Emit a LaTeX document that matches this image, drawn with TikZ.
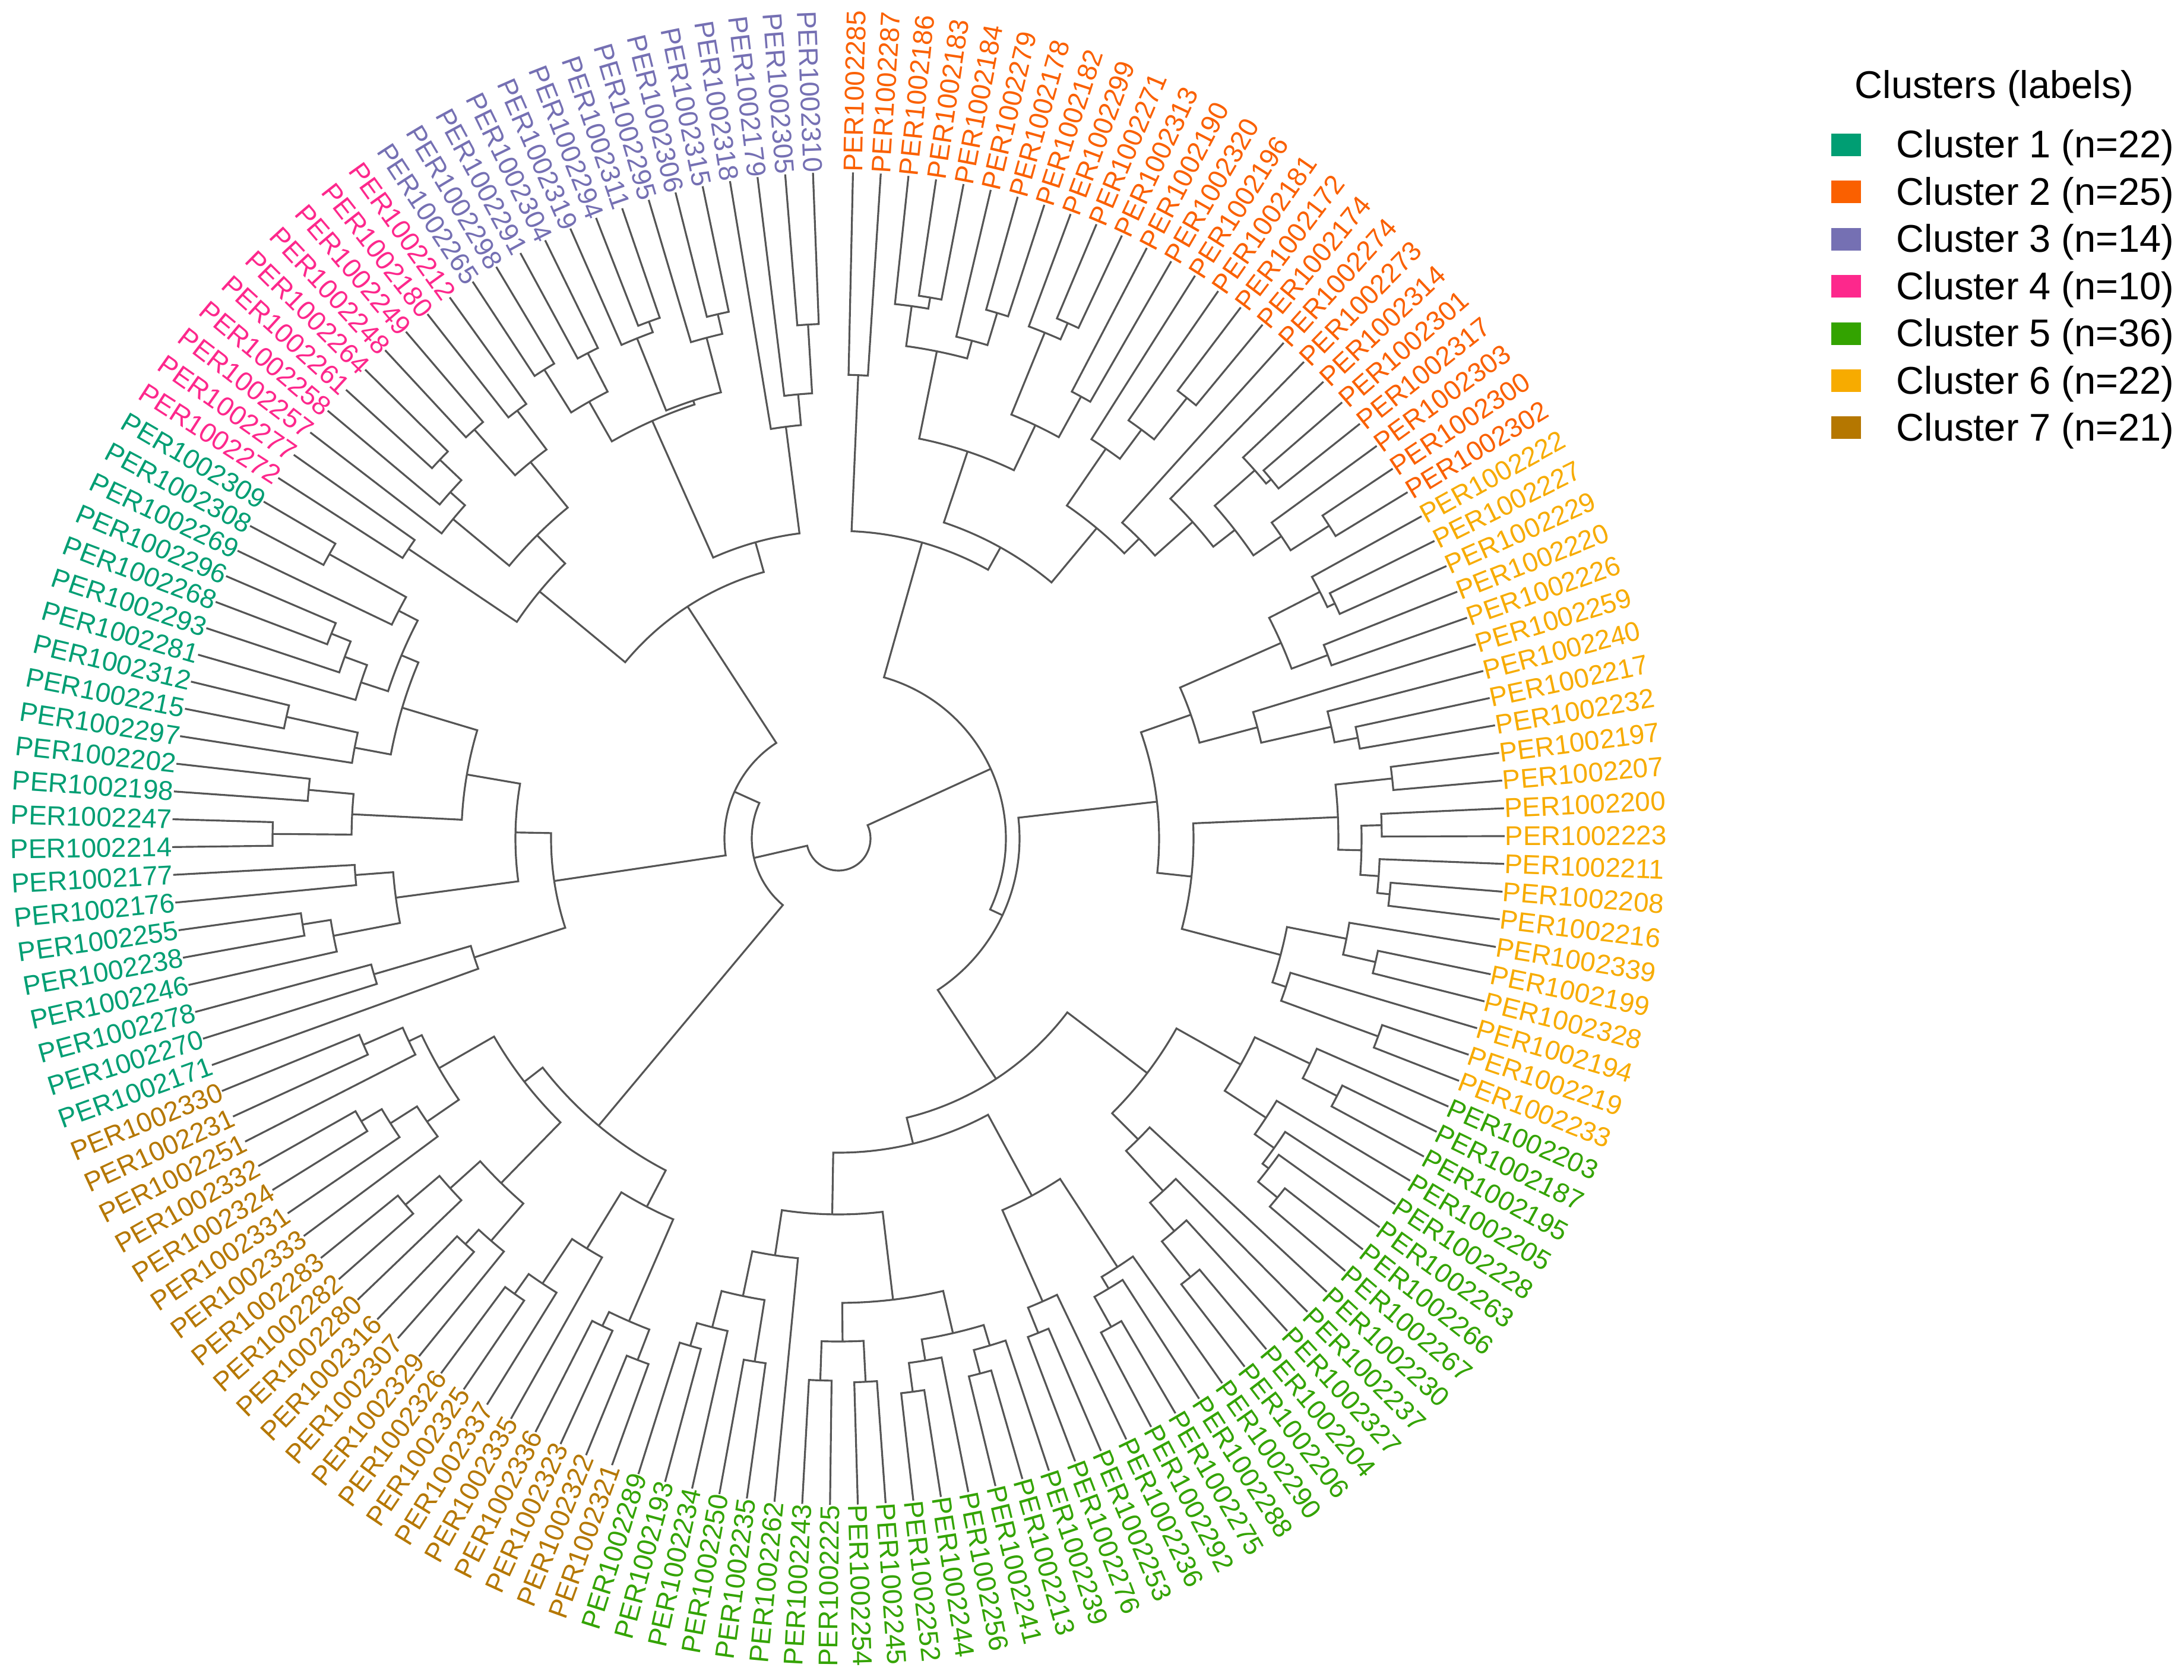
\documentclass[tikz,border=0pt]{standalone}
\usepackage{fontspec}
\setmainfont{Liberation Sans}
\definecolor{brc}{RGB}{85,85,85}
\definecolor{cA}{RGB}{0,158,115}
\definecolor{cB}{RGB}{250,96,0}
\definecolor{cC}{RGB}{117,112,179}
\definecolor{cD}{RGB}{253,40,140}
\definecolor{cE}{RGB}{51,163,0}
\definecolor{cF}{RGB}{247,171,0}
\definecolor{cG}{RGB}{181,119,0}
\tikzset{br/.style={draw=brc,line width=0.9pt},
  lab/.style={inner sep=0pt,font=\fontsize{13}{15}\selectfont},
  legtxt/.style={inner sep=0pt,font=\fontsize{18.5}{22}\selectfont}}
\def\LR{11.22}
\newcommand\lf[3]{%
  \pgfmathsetmacro\la{88.75-(#2-1)*2.393}%
  \expandafter\xdef\csname ang@p#1\endcsname{\la}%
  \coordinate (p#1) at (\la:\LR);%
  \pgfmathsetmacro\lc{cos(\la)}%
  \ifdim\lc pt<0pt\relax
    \pgfmathsetmacro\lb{\la+180}%
    \node[lab,text=#3,rotate=\lb,anchor=east] (L#1) at (p#1) {PER100#1};%
  \else
    \node[lab,text=#3,rotate=\la,anchor=west] (L#1) at (p#1) {PER100#1};%
  \fi}
\newcommand\jn[4]{%
  \edef\ja{\csname ang@#2\endcsname}\edef\jb{\csname ang@#3\endcsname}%
  \pgfmathsetmacro\jm{(\ja+\jb)/2}%
  \expandafter\xdef\csname ang@#1\endcsname{\jm}%
  \coordinate (#1) at (\jm:#4);%
  \coordinate (#1-a) at (\ja:#4);%
  \coordinate (#1-b) at (\jb:#4);%
  \draw[br] (#2) -- (#1-a) arc[start angle=\ja,end angle=\jb,radius=#4] -- (#3);}
\begin{document}
\begin{tikzpicture}
\useasboundingbox (-14.12,-14.16) rectangle (22.66,14.12);
% ---------------- leaves
\foreach \id [count=\i from 1] in {2285,2287,2186,2183,2184,2279,2178,2182,2299,2271,2313,2190,2320,2196,2181,2172,2174,2274,2273,2314,2301,2317,2303,2300,2302}{\edef\tmp{\noexpand\lf{\id}{\i}{cB}}\tmp}
\foreach \id [count=\i from 26] in {2222,2227,2229,2220,2226,2259,2240,2217,2232,2197,2207,2200,2223,2211,2208,2216,2339,2199,2328,2194,2219,2233}{\edef\tmp{\noexpand\lf{\id}{\i}{cF}}\tmp}
\foreach \id [count=\i from 48] in {2203,2187,2195,2205,2228,2263,2266,2267,2230,2237,2327,2204,2206,2290,2288,2275,2292,2236,2253,2276,2239,2213,2241,2256,2244,2252,2245,2254,2225,2243,2262,2235,2250,2234,2193,2289}{\edef\tmp{\noexpand\lf{\id}{\i}{cE}}\tmp}
\foreach \id [count=\i from 84] in {2321,2322,2323,2336,2335,2337,2325,2326,2329,2307,2316,2280,2282,2283,2333,2331,2324,2332,2251,2231,2330}{\edef\tmp{\noexpand\lf{\id}{\i}{cG}}\tmp}
\foreach \id [count=\i from 105] in {2171,2270,2278,2246,2238,2255,2176,2177,2214,2247,2198,2202,2297,2215,2312,2281,2293,2268,2296,2269,2308,2309}{\edef\tmp{\noexpand\lf{\id}{\i}{cA}}\tmp}
\foreach \id [count=\i from 127] in {2272,2277,2257,2258,2261,2264,2248,2249,2180,2212}{\edef\tmp{\noexpand\lf{\id}{\i}{cD}}\tmp}
\foreach \id [count=\i from 137] in {2265,2298,2291,2304,2319,2294,2311,2295,2306,2315,2318,2179,2305,2310}{\edef\tmp{\noexpand\lf{\id}{\i}{cC}}\tmp}
% ---------------- cluster 2
\jn{J1}{p2285}{p2287}{7.81}
\jn{J9}{p2183}{p2184}{9.24}
\jn{J7}{p2186}{J9}{9.05}
\jn{J10}{p2178}{p2182}{9.245}
\jn{J8}{p2279}{J10}{8.68}
\jn{J5}{J7}{J8}{8.37}
\jn{J13}{p2271}{p2313}{9.50}
\jn{J11}{p2299}{J13}{9.20}
\jn{J12}{p2190}{p2320}{8.49}
\jn{J6}{J11}{J12}{7.71}
\jn{J3}{J5}{J6}{6.87}
\jn{J15}{p2172}{p2174}{9.46}
\jn{J16}{p2181}{J15}{8.57}
\jn{J17}{p2196}{J16}{7.96}
\jn{J22}{p2301}{p2317}{9.47}
\jn{J21}{p2314}{J22}{9.36}
\jn{J24}{p2300}{p2302}{9.80}
\jn{J23}{p2303}{J24}{9.03}
\jn{J20}{J21}{J23}{8.46}
\jn{J19}{p2273}{J20}{8.00}
\jn{J18}{p2274}{J19}{7.15}
\jn{J4}{J17}{J18}{6.80}
\jn{J2}{J3}{J4}{5.61}
\jn{H2}{J1}{J2}{5.18}
% ---------------- cluster 6
\jn{H12}{p2227}{p2229}{9.25}
\jn{H13}{p2222}{H12}{9.11}
\jn{H11}{p2220}{p2226}{8.80}
\jn{H7}{H13}{H11}{8.15}
\jn{H16}{p2217}{p2232}{8.91}
\jn{H15}{p2240}{H16}{8.51}
\jn{H14}{p2259}{H15}{7.30}
\jn{H5}{H7}{H14}{6.29}
\jn{H19}{p2197}{p2207}{9.38}
\jn{H21}{p2200}{p2223}{9.15}
\jn{H23}{p2208}{p2216}{9.33}
\jn{H22}{p2211}{H23}{9.12}
\jn{H20}{H21}{H22}{8.81}
\jn{H17}{H19}{H20}{8.42}
\jn{H26}{p2199}{p2328}{9.28}
\jn{H24}{p2339}{H26}{8.72}
\jn{H27}{p2219}{p2233}{9.68}
\jn{H25}{p2194}{H27}{7.94}
\jn{H18}{H24}{H25}{7.70}
\jn{H6}{H17}{H18}{5.98}
\jn{H3}{H5}{H6}{5.40}
% ---------------- cluster 5
\jn{K7}{p2187}{p2195}{9.45}
\jn{K5}{p2203}{K7}{8.80}
\jn{K10}{p2266}{p2267}{9.55}
\jn{K9}{p2263}{K10}{9.13}
\jn{K8}{p2228}{K9}{9.00}
\jn{K6}{p2205}{K8}{8.60}
\jn{K3}{K5}{K6}{7.77}
\jn{K13}{p2204}{p2206}{9.47}
\jn{K12}{p2327}{K13}{8.70}
\jn{K11}{p2237}{K12}{8.07}
\jn{K4}{p2230}{K11}{7.15}
\jn{K2}{K3}{K4}{6.53}
\jn{K19}{p2275}{p2292}{9.42}
\jn{K18}{p2288}{K19}{8.84}
\jn{K16}{p2290}{K18}{8.61}
\jn{K20}{p2253}{p2276}{8.98}
\jn{K17}{p2236}{K20}{8.52}
\jn{K14}{K16}{K17}{6.84}
\jn{K26}{p2193}{p2289}{8.90}
\jn{K25}{p2234}{K26}{8.50}
\jn{K24}{p2235}{p2250}{8.92}
\jn{K23}{K25}{K24}{7.87}
\jn{K21}{K23}{p2262}{7.10}
\jn{K29}{p2225}{p2243}{9.13}
\jn{K30}{p2245}{p2254}{9.16}
\jn{K27}{K29}{K30}{8.47}
\jn{K33}{p2244}{p2252}{9.40}
\jn{K31}{K33}{p2256}{8.91}
\jn{K34}{p2213}{p2241}{9.32}
\jn{K32}{p2239}{K34}{8.91}
\jn{K28}{K31}{K32}{8.55}
\jn{K22}{K27}{K28}{7.82}
\jn{K15}{K21}{K22}{6.33}
\jn{K1}{K14}{K15}{5.29}
\jn{H4}{K1}{K2}{4.84}
\jn{H1}{H3}{H4}{3.05}
\jn{H}{H1}{H2}{2.82}
% ---------------- cluster 7
\jn{S1}{p2231}{p2330}{8.72}
\jn{S2}{S1}{p2251}{8.00}
\jn{S6}{p2324}{p2332}{9.34}
\jn{S5}{S6}{p2331}{8.94}
\jn{S4}{S5}{p2333}{8.41}
\jn{S3}{S2}{S4}{7.76}
\jn{S10}{p2282}{p2283}{9.55}
\jn{S9}{S10}{p2280}{8.80}
\jn{S12}{p2307}{p2316}{9.28}
\jn{S11}{S12}{p2329}{8.95}
\jn{S8}{S9}{S11}{8.12}
\jn{S7}{S3}{S8}{6.69}
\jn{S17}{p2325}{p2326}{9.41}
\jn{S16}{S17}{p2337}{9.00}
\jn{S15}{S16}{p2335}{8.10}
\jn{S19}{p2323}{p2336}{9.12}
\jn{S18}{p2321}{p2322}{9.41}
\jn{S20}{S19}{S18}{8.86}
\jn{S14}{S15}{S20}{6.99}
\jn{G}{S7}{S14}{6.30}
% ---------------- cluster 1
\jn{Z1}{p2312}{p2215}{9.52}
\jn{Y}{Z1}{p2297}{8.29}
\jn{Z5}{p2308}{p2309}{9.82}
\jn{Z6}{p2269}{Z5}{8.34}
\jn{Z2}{p2268}{p2296}{9.21}
\jn{Z3}{p2293}{Z2}{8.86}
\jn{Z4}{p2281}{Z3}{8.46}
\jn{Z7}{Z6}{Z4}{7.98}
\jn{Z8}{Y}{Z7}{7.67}
\jn{V1}{p2198}{p2202}{8.96}
\jn{V2}{p2214}{p2247}{9.53}
\jn{W}{V1}{V2}{8.20}
\jn{Z9}{Z8}{W}{6.35}
\jn{U1}{p2176}{p2177}{8.16}
\jn{U3}{p2238}{p2255}{9.14}
\jn{U2}{U3}{p2246}{8.66}
\jn{U}{U1}{U2}{7.52}
\jn{Z10}{Z9}{U}{5.44}
\jn{T1}{p2270}{p2278}{8.15}
\jn{T}{T1}{p2171}{6.45}
\jn{E}{Z10}{T}{4.84}
% ---------------- cluster 4
\jn{Q7}{p2272}{p2277}{8.73}
\jn{Q4}{p2261}{p2264}{9.26}
\jn{Q5}{p2258}{Q4}{8.76}
\jn{Q6}{p2257}{Q5}{8.43}
\jn{Q2}{p2248}{p2249}{9.22}
\jn{Q1}{p2180}{p2212}{9.01}
\jn{Q3}{Q2}{Q1}{8.19}
\jn{Q8}{Q6}{Q3}{7.20}
\jn{X}{Q8}{Q7}{6.53}
% ---------------- cluster 3
\jn{P2}{p2265}{p2298}{9.32}
\jn{P1}{p2291}{p2304}{9.20}
\jn{P3}{P2}{P1}{8.47}
\jn{N7}{p2294}{p2311}{9.27}
\jn{N8}{p2319}{N7}{9.08}
\jn{N4}{p2306}{p2315}{9.06}
\jn{N5}{p2295}{N4}{8.72}
\jn{N6}{N8}{N5}{7.77}
\jn{N9}{P3}{N6}{7.70}
\jn{N1}{p2305}{p2310}{8.67}
\jn{N2}{p2179}{N1}{7.51}
\jn{N3}{p2318}{N2}{6.99}
\jn{B}{N9}{N3}{5.18}
% ---------------- upper levels
\jn{C}{X}{B}{4.66}
\jn{D}{C}{E}{1.92}
\jn{F}{D}{G}{1.46}
\jn{R}{F}{H}{0.54}
% ---------------- legend
\node[legtxt,anchor=base west] (legtitle) at (17.11,12.46) {Clusters (labels)};
\foreach \k/\c/\t in {1/cA/Cluster 1 (n=22),2/cB/Cluster 2 (n=25),3/cC/Cluster 3 (n=14),4/cD/Cluster 4 (n=10),5/cE/Cluster 5 (n=36),6/cF/Cluster 6 (n=22),7/cG/Cluster 7 (n=21)}{
  \pgfmathsetmacro\yy{11.68-0.794*(\k-1)}
  \node[fill=\c,inner sep=0pt,minimum width=0.5cm,minimum height=0.38cm] (key\k) at (16.97,\yy) {};
  \node[legtxt,anchor=base west] (leg\k) at (17.81,\yy-0.22) {\t};
}
\end{tikzpicture}
\end{document}
